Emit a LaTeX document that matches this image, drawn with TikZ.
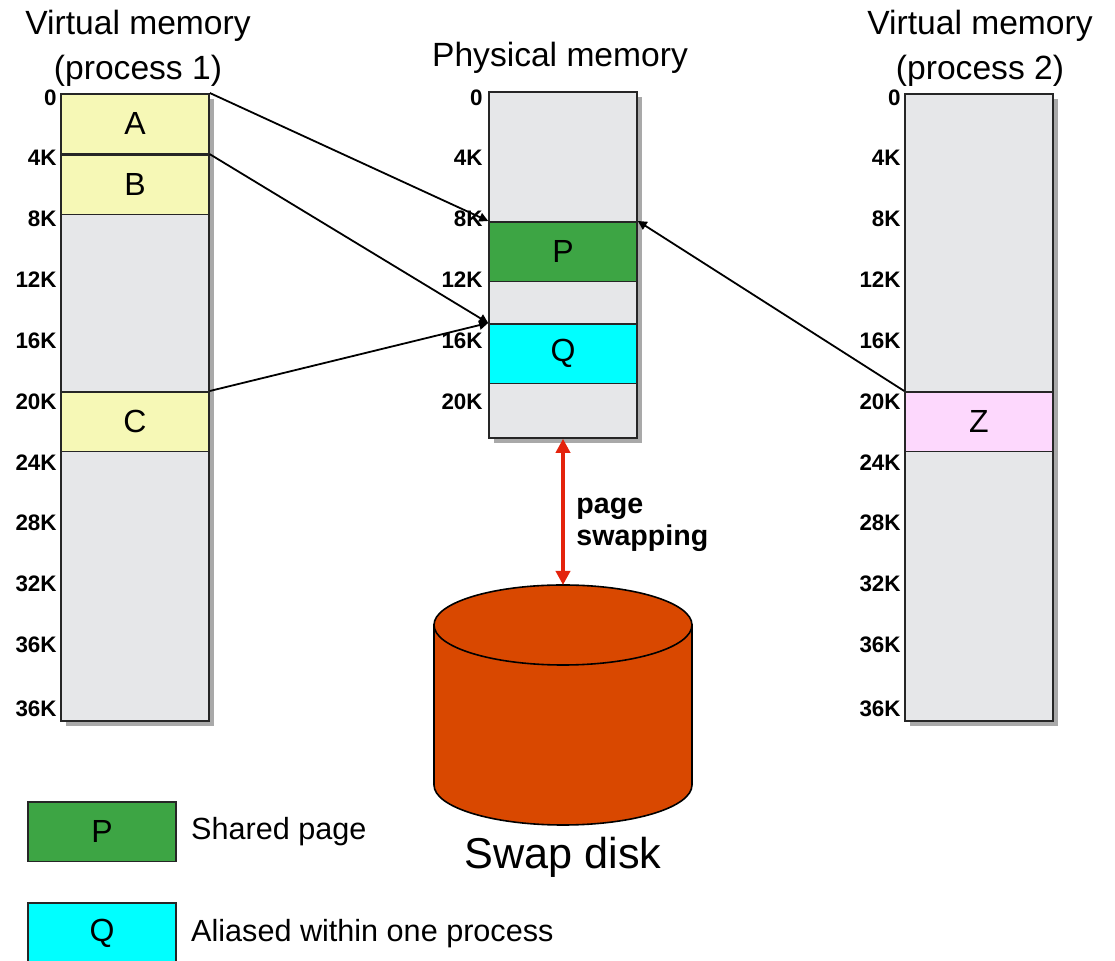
\documentclass[tikz,border=0pt]{standalone}
\usepackage{fontspec}
\setmainfont{Liberation Sans}
\usepackage{tikz}
\usetikzlibrary{positioning}
\usetikzlibrary{arrows.meta}
\usetikzlibrary{shadows}

\definecolor{memgray}{HTML}{E6E7E9}
\definecolor{shadegray}{HTML}{A9A9A9}
\definecolor{edgegray}{HTML}{262626}
\definecolor{pageyellow}{HTML}{F6F8B6}
\definecolor{sharedgreen}{HTML}{3DA544}
\definecolor{aliascyan}{HTML}{00FFFF}
\definecolor{pagepink}{HTML}{FDD8FD}
\definecolor{diskorange}{HTML}{D94800}
\definecolor{swapred}{HTML}{E4230C}

\begin{document}
\begin{tikzpicture}[
  x=0.5pt, y=-0.5pt,
  col/.style={
    draw=edgegray, fill=memgray, line width=0.9pt,
    minimum width=74pt, inner sep=0pt, anchor=north,
    general shadow={shadow xshift=2.5pt, shadow yshift=-2.5pt, fill=shadegray}
  },
  pg/.style={
    draw=edgegray, line width=0.8pt,
    minimum width=74pt, minimum height=29.8pt, inner sep=0pt,
    anchor=north, font=\fontsize{16}{18}\selectfont
  },
  tick/.style={anchor=east, inner sep=0pt, font=\bfseries\fontsize{11.2}{12}\selectfont},
  ttl/.style={align=center, font=\fontsize{16.8}{22.5}\selectfont},
  map/.style={-{Triangle[length=4.5pt,width=4.5pt]}, line width=0.9pt},
  swap/.style={{Triangle[length=7pt,width=7pt]}-{Triangle[length=7pt,width=7pt]}, line width=2pt, draw=swapred},
  legtxt/.style={font=\fontsize{15.3}{17}\selectfont, inner sep=0pt}
]
\useasboundingbox (0,0) rectangle (1115,961);

% --- Three memories (columns with shadow) ---
\node[col, minimum height=313.5pt] (vm1) at (135,93) {};
\node[col, minimum height=173pt] (pm) at (563,91) {};
\node[col, minimum height=313.5pt] (vm2) at (979,93) {};

\node[ttl] (t1) at (138,48) {Virtual memory\\(process 1)};
\node[ttl] (t2) at (560,58) {Physical memory};
\node[ttl] (t3) at (980,48) {Virtual memory\\(process 2)};

% --- Address ticks ---
\foreach \lbl [count=\k from 0] in {0,4K,8K,12K,16K,20K,24K,28K,32K,36K} {
  \node[tick] (a\k) at (57,{97.5+60.8*\k}) {\lbl};
  \node[tick] (c\k) at (901,{97.5+60.8*\k}) {\lbl};
}
\node[tick] (a10) at (57,709) {36K};
\node[tick] (c10) at (901,709) {36K};
\foreach \lbl [count=\k from 0] in {0,4K,8K,12K,16K,20K}
  \node[tick] (b\k) at (483,{97.5+60.8*\k}) {\lbl};

% --- Pages ---
\node[pg, fill=pageyellow] (A) at (135,93) {A};
\node[pg, fill=pageyellow] (B) at (A.south) {B};
\node[pg, fill=pageyellow] (C) at (135,391) {C};
\node[pg, fill=sharedgreen] (P) at (563,221) {P};
\node[pg, fill=aliascyan] (Q) at (563,323) {Q};
\node[pg, fill=pagepink] (Z) at (979,391) {Z};

% --- Page mappings ---
\draw[map] (A.north east) -- (P.north west);
\draw[map] (B.north east) -- (Q.north west);
\draw[map] (C.north east) -- (Q.north west);
\draw[map] (Z.north west) -- (P.north east);

% --- Swap disk ---
\coordinate (disktop) at (563,585);
\filldraw[draw=black, fill=diskorange, line width=0.8pt]
  (434,625) -- (434,785) arc[start angle=180, end angle=0, x radius=129, y radius=40] -- (692,625) -- cycle;
\filldraw[draw=black, fill=diskorange, line width=0.8pt] (563,625) ellipse[x radius=129, y radius=40];
\node[font=\fontsize{21.6}{24}\selectfont] (disklbl) at (563,857) {Swap disk};

\draw[swap] (pm.south) -- (pm.south |- disktop);
\node[anchor=west, align=left, inner sep=0pt, font=\bfseries\fontsize{14.3}{16}\selectfont] (swaplbl) at (576,525) {page\\swapping};

% --- Legend ---
\node[pg, fill=sharedgreen] (legP) at (102,801) {P};
\node[legtxt, right=7pt of legP] (legPt) {Shared page};
\node[pg, fill=aliascyan, minimum height=31pt] (legQ) at (102,902) {Q};
\node[legtxt, right=7pt of legQ] (legQt) {Aliased within one process};

\end{tikzpicture}
\end{document}
